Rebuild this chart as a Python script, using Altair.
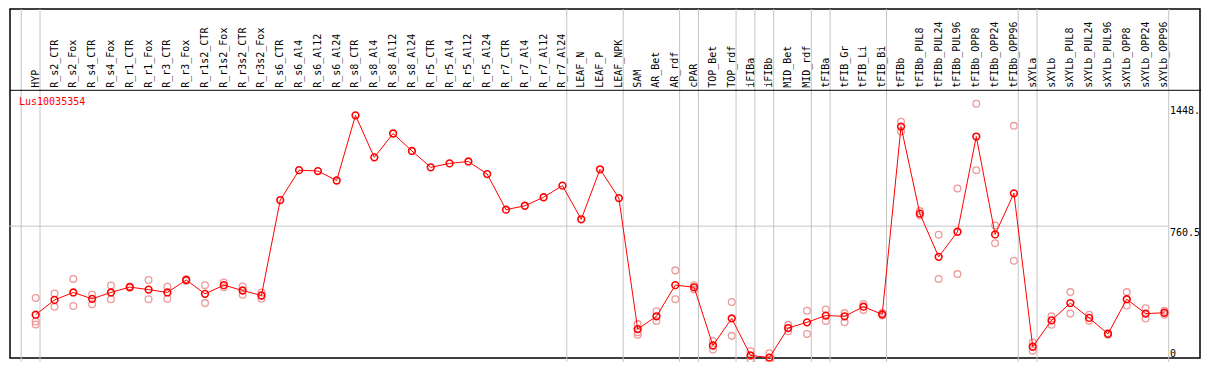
import altair as alt
import pandas as pd

categories = ["HYP", "R_s2_CTR", "R_s2_Fox", "R_s4_CTR", "R_s4_Fox", "R_r1_CTR", "R_r1_Fox",
              "R_r3_CTR", "R_r3_Fox", "R_r1s2_CTR", "R_r1s2_Fox", "R_r3s2_CTR", "R_r3s2_Fox",
              "R_s6_CTR", "R_s6_Al4", "R_s6_Al12", "R_s6_Al24", "R_s8_CTR", "R_s8_Al4",
              "R_s8_Al12", "R_s8_Al24", "R_r5_CTR", "R_r5_Al4", "R_r5_Al12", "R_r5_Al24",
              "R_r7_CTR", "R_r7_Al4", "R_r7_Al12", "R_r7_Al24", "LEAF_N", "LEAF_P", "LEAF_NPK",
              "SAM", "AR_Bet", "AR_rdf", "cPAR", "TOP_Bet", "TOP_rdf", "iFIBa", "iFIBb",
              "MID_Bet", "MID_rdf", "tFIBa", "tFIB_Gr", "tFIB_Li", "tFIB_Bi", "tFIBb",
              "tFIBb_PUL8", "tFIBb_PUL24", "tFIBb_PUL96", "tFIBb_OPP8", "tFIBb_OPP24",
              "tFIBb_OPP96", "sXYLa", "sXYLb", "sXYLb_PUL8", "sXYLb_PUL24", "sXYLb_PUL96",
              "sXYLb_OPP8", "sXYLb_OPP24", "sXYLb_OPP96"]

mean_vals = [263, 346, 388, 352, 388, 418, 404, 388, 458, 380, 429, 399, 371,
             907, 1075, 1070, 1017, 1383, 1147, 1281, 1183, 1091, 1113, 1124, 1053,
             853, 875, 923, 988, 799, 1080, 918,
             182, 254, 429, 417, 90, 242, 34, 22, 188, 220, 258, 254, 308, 265,
             1320, 831, 588, 729, 1264, 714, 945,
             83, 231, 328, 245, 155, 350, 269, 274]

rep_a = [357, 382, 464, 377, 427, 422, 458, 420, 462, 429, 444, 422, 388,
         None, None, None, None, None, None, None, None, None, None, None, None,
         None, None, None, None, None, None, None,
         210, 283, 512, 429, 115, 334, 58, 47, 206, 285, 292, 272, 323, 272,
         1347, 845, 712, 972, 1448, 764, 1324,
         107, 254, 390, 263, 160, 390, 299, 285]

rep_b = [225, 307, 312, 321, 350, 414, 350, 353, 454, 328, 417, 375, 353,
         None, None, None, None, None, None, None, None, None, None, None, None,
         None, None, None, None, None, None, None,
         165, 227, 350, 404, 67, 144, 11, 5, 170, 155, 227, 220, 290, 258,
         1293, 820, 464, 491, 1075, 664, 566,
         61, 206, 269, 229, 150, 314, 242, 263]

rep_c = [208] + [None] * 31 + [150] + [None] * 28

separators = [-0.77, 0.23, 28.23, 31.23, 34.23, 35.23, 37.23, 38.23, 39.23,
              41.23, 42.23, 45.23, 52.23, 53.23, 60.23]

tick_vals = [1448, 760.5, 0]
tick_text = ["1448.", "760.5", "0"]
title_text = "Lus10035354"

W, H = 1193, 354
HEADER = 81.3

idx = list(range(len(categories)))
df_mean = pd.DataFrame({"idx": idx, "cat": categories, "value": mean_vals})
reps = []
for i in idx:
    for r in (rep_a[i], rep_b[i], rep_c[i]):
        if r is not None:
            reps.append({"idx": i, "value": r})
df_rep = pd.DataFrame(reps)
df_sep = pd.DataFrame({"pos": separators})
df_ticks = pd.DataFrame({"value": tick_vals, "label": tick_text})

xs = alt.Scale(domain=[0, 60], range=[25.7, 1154.4], nice=False, zero=False)
ys = alt.Scale(domain=[0, 1521], range=[352.5, HEADER + 0.5], nice=False, zero=False)
FONT = "DejaVu Sans Mono"

sep = alt.Chart(df_sep).mark_rule(color="#C4C4C4", strokeWidth=1).encode(
    x=alt.X("pos:Q", scale=xs, axis=None),
    y=alt.value(0), y2=alt.value(H))

grid = alt.Chart(pd.DataFrame({"value": [760.5], "x1": [-1.4], "x2": [60.23]})).mark_rule(
    color="#C4C4C4", strokeWidth=1).encode(
    y=alt.Y("value:Q", scale=ys, axis=None),
    x=alt.X("x1:Q", scale=xs, axis=None), x2=alt.X2("x2:Q"))

header = alt.Chart(pd.DataFrame({"a": [0]})).mark_rule(color="black", strokeWidth=1).encode(
    x=alt.value(0), x2=alt.value(W), y=alt.value(HEADER))

rep_pts = alt.Chart(df_rep).mark_point(shape="circle", filled=False, color="#EE9A9A",
                                       strokeWidth=1.3, size=45, opacity=1).encode(
    x=alt.X("idx:Q", scale=xs, axis=None),
    y=alt.Y("value:Q", scale=ys, axis=None))

line = alt.Chart(df_mean).mark_line(color="#FF0000", strokeWidth=1).encode(
    x=alt.X("idx:Q", scale=xs, axis=None),
    y=alt.Y("value:Q", scale=ys, axis=None))

mean_pts = alt.Chart(df_mean).mark_point(shape="circle", filled=False, color="#FF0000",
                                         strokeWidth=1.6, size=45, opacity=1).encode(
    x=alt.X("idx:Q", scale=xs, axis=None),
    y=alt.Y("value:Q", scale=ys, axis=None))

cat_labels = alt.Chart(df_mean).mark_text(angle=270, align="left", baseline="middle",
                                          font=FONT, fontSize=10, color="black").encode(
    x=alt.X("idx:Q", scale=xs, axis=None),
    y=alt.value(HEADER - 2.5),
    text="cat:N")

tick_top = alt.Chart(df_ticks).transform_filter("datum.value > 0").mark_text(
    align="left", baseline="top", font=FONT, fontSize=10, color="black", dy=2).encode(
    x=alt.value(1160), y=alt.Y("value:Q", scale=ys, axis=None), text="label:N")

tick_zero = alt.Chart(df_ticks).transform_filter("datum.value == 0").mark_text(
    align="left", baseline="bottom", font=FONT, fontSize=10, color="black", dy=-3).encode(
    x=alt.value(1160), y=alt.Y("value:Q", scale=ys, axis=None), text="label:N")

title = alt.Chart(pd.DataFrame({"t": [title_text]})).mark_text(
    align="left", baseline="top", font=FONT, fontSize=10, color="#FF0000").encode(
    x=alt.value(9), y=alt.value(HEADER + 7), text="t:N")

chart = alt.layer(sep, grid, header, rep_pts, line, mean_pts, cat_labels,
                  tick_top, tick_zero, title).properties(
    width=W, height=H,
    autosize=alt.AutoSizeParams(type="fit", contains="padding"),
    padding=0,
    background="white",
).configure_view(stroke="black", strokeWidth=1.5)

chart.save("out.html", embed_options={"renderer": "svg", "actions": False})
